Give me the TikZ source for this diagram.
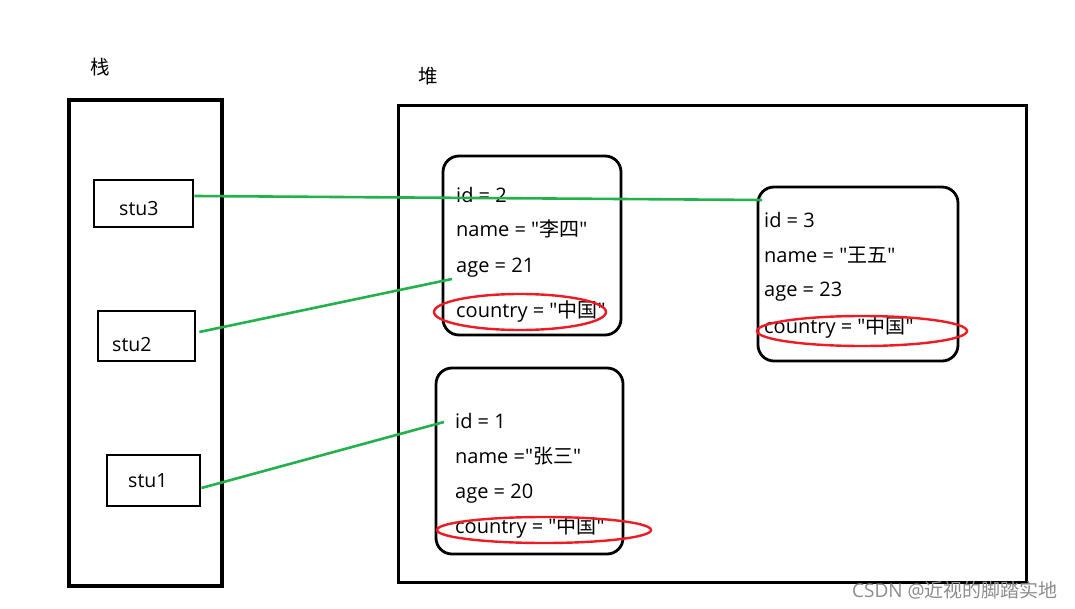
\documentclass[tikz,border=0pt]{standalone}
\usepackage{fontspec}
\setmainfont{Open Sans}[Ligatures=TeXOff]
\newfontfamily\cjk{Noto Sans CJK SC}[Ligatures=TeXOff]
\usetikzlibrary{positioning}
\definecolor{linkgreen}{RGB}{34,177,76}
\definecolor{ringred}{RGB}{237,28,36}

\begin{document}
\begin{tikzpicture}[x=1pt,y=-1pt,
    frame/.style={draw,line width=3pt,inner sep=0pt},
    slot/.style={draw,line width=2.8pt,inner sep=0pt},
    obj/.style={draw,line width=2.8pt,rounded corners=16pt,inner sep=0pt},
    txt/.style={anchor=base west,inner sep=0pt,font=\fontsize{19.5}{19.5}\selectfont},
    link/.style={draw=linkgreen,line width=2.6pt},
    ring/.style={draw=ringred,line width=2.4pt}]
  \useasboundingbox (0,0) rectangle (1075,609);
% the stack
  \node [txt,anchor=center] (stacklbl) at (100,67) {\cjk 栈};
  \node [frame,line width=4.6pt,minimum width=153pt,minimum height=486pt] (stack) at (145.5,343) {};
  \node [slot,minimum width=99pt,minimum height=47pt] (stu3) at (143.5,203.5) {};
  \node [slot,minimum width=97pt,minimum height=50pt] (stu2) at (146.5,336) {};
  \node [slot,minimum width=93pt,minimum height=51pt] (stu1) at (153.5,480.5) {};
  \node [txt] (stu3t) at (119,216) {stu3};
  \node [txt] (stu2t) at (112,351) {stu2};
  \node [txt] (stu1t) at (128,487) {stu1};
% the heap
  \node [txt,anchor=center] (heaplbl) at (428,76) {\cjk 堆};
  \node [frame,minimum width=628pt,minimum height=476pt] (heap) at (712,344) {};
  \node [obj,minimum width=178pt,minimum height=179pt] (obj2) at (532,245.5) {};
  \node [obj,minimum width=200pt,minimum height=174pt] (obj3) at (858,274) {};
  \node [obj,minimum width=187pt,minimum height=186pt] (obj1) at (529.5,461) {};
% fields
  \tikzset{txt/.append style={font=\fontsize{20}{20}\selectfont}}
  \node [txt] (id2) at (456,203) {id = 2};
  \node [txt] (name2) at (456,237) {name = "{\cjk 李四}"};
  \node [txt] (age2) at (456,273) {age = 21};
  \node [txt] (country2) at (456,317) {country = "{\cjk 中国}"};
  \node [txt] (id3) at (764,228) {id = 3};
  \node [txt] (name3) at (764,263) {name = "{\cjk 王五}"};
  \node [txt] (age3) at (764,297) {age = 23};
  \node [txt] (country3) at (764,333) {country = "{\cjk 中国}"};
  \node [txt] (id1) at (455,428) {id = 1};
  \node [txt] (name1) at (455,463) {name ="{\cjk 张三}"};
  \node [txt] (age1) at (455,498) {age = 20};
  \node [txt] (country1) at (455,533) {country = "{\cjk 中国}"};
% red rings
  \draw [ring] (520,312) ellipse [x radius=86, y radius=18];
  \draw [ring] (862,331) ellipse [x radius=105, y radius=15];
  \draw [ring] (544,530) ellipse [x radius=107, y radius=13];
% references
  \coordinate (in3) at (762,200);
  \coordinate (in2) at (452,279);
  \coordinate (in1) at (444,422);
  \draw [link] ([yshift=7.5pt]stu3.east) -- (in3);
  \draw [link] ([yshift=4pt,xshift=3pt]stu2.east) -- (in2);
  \draw [link] ([yshift=-7.5pt]stu1.east) -- (in1);
% watermark
  \node [txt,anchor=base east,font=\fontsize{19}{19}\selectfont,text=black!45] (mark) at (1058,597) {CSDN @{\cjk 近视的脚踏实地}};
\end{tikzpicture}
\end{document}
